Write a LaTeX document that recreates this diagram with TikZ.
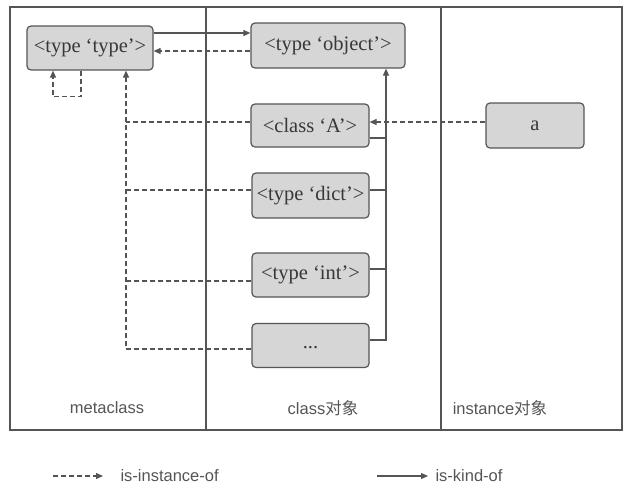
\documentclass[tikz,border=0pt]{standalone}
\usepackage{fontspec}
\setmainfont{Liberation Serif}
\setsansfont{Liberation Sans}
\newfontfamily\cjk{Noto Sans CJK SC}
\usepackage{xcolor}
\usetikzlibrary{arrows.meta}
\definecolor{boxgray}{RGB}{214,214,214}
\definecolor{linegray}{RGB}{85,85,85}
\definecolor{textgray}{RGB}{55,55,55}

\tikzset{
  objbox/.style={draw=linegray, fill=boxgray, rounded corners=4pt, line width=1.2pt,
    text=textgray, font=\fontsize{20.5}{22}\selectfont, inner sep=0pt},
  instof/.style={draw=linegray, line width=1.2pt, dash pattern=on 5pt off 3pt,
    -{Triangle[length=7pt,width=6pt]}},
  instline/.style={draw=linegray, line width=1.2pt, dash pattern=on 5pt off 3pt},
  kindof/.style={draw=linegray, line width=1.2pt, -{Triangle[length=7pt,width=6pt]}},
  kindline/.style={draw=linegray, line width=1.2pt},
  collabel/.style={text=linegray, font=\sffamily\fontsize{16.5}{18}\selectfont},
}

\begin{document}
\begin{tikzpicture}[x=1pt,y=-1pt]
  \useasboundingbox (0,0) rectangle (631,491);
  % frame and columns
  \draw[linegray, line width=2.2pt] (10,7) rectangle (622,430);
  \draw[linegray, line width=1.2pt] (206,7) -- (206,430);
  \draw[linegray, line width=1.2pt] (441,7) -- (441,430);
  \node[collabel] (lmeta) at (107,408) {metaclass};
  \node[collabel] (lclass) at (323,408) {class{\cjk 对象}};
  \node[collabel] (linst) at (500,408) {instance{\cjk 对象}};

  % objects
  \node[objbox, minimum width=126pt, minimum height=44pt] (type) at (90,48) {<type `type'>};
  \node[objbox, minimum width=154pt, minimum height=45pt] (object) at (328,45.5) {<type `object'>};
  \node[objbox, minimum width=118pt, minimum height=43pt] (classA) at (310,125.5) {<class `A'>};
  \node[objbox, minimum width=117pt, minimum height=45pt] (dict) at (310.5,195.5) {<type `dict'>};
  \node[objbox, minimum width=117pt, minimum height=44pt] (int) at (310.5,275) {<type `int'>};
  \node[objbox, minimum width=117pt, minimum height=44pt] (dots) at (310.5,345.5) {\raisebox{-6pt}{...}};
  \node[objbox, minimum width=98pt, minimum height=45pt] (a) at (535,125.5) {\raisebox{-3pt}{a}};

  \coordinate (tin) at ([xshift=36pt]type.south);
  \coordinate (oin) at ([xshift=58pt]object.south);

  % is-kind-of
  \draw[kindof] ([yshift=15pt]type.east) -- ([yshift=15pt]type.east -| object.west);
  \draw[kindof] ([yshift=5.5pt]dots.east) -| (oin);
  \draw[kindline] ([yshift=-12.5pt]classA.east) -- ([yshift=-12.5pt]classA.east -| oin);
  \draw[kindline] ([yshift=5.5pt]dict.east) -- ([yshift=5.5pt]dict.east -| oin);
  \draw[kindline] ([yshift=6pt]int.east) -- ([yshift=6pt]int.east -| oin);

  % is-instance-of
  \draw[instof] ([yshift=-5.5pt]object.west) -- ([yshift=-5.5pt]object.west -| type.east);
  \draw[instof] ([xshift=-9pt]type.south) |- ([xshift=-37pt,yshift=-26pt]type.south) -- ([xshift=-37pt]type.south);
  \draw[instof] ([yshift=-3.5pt]dots.west) -| (tin);
  \draw[instline] ([yshift=3.5pt]classA.west) -- ([yshift=3.5pt]classA.west -| tin);
  \draw[instline] ([yshift=5.5pt]dict.west) -- ([yshift=5.5pt]dict.west -| tin);
  \draw[instline] ([yshift=-6pt]int.west) -- ([yshift=-6pt]int.west -| tin);
  \draw[instof] ([yshift=3.5pt]a.west) -- ([yshift=3.5pt]a.west -| classA.east);

  % legend
  \coordinate (lg1) at (53,476);
  \node[collabel, anchor=west] (leginst) at (117,476) {is-instance-of};
  \draw[instof] (lg1) -- ([xshift=-14pt]leginst.west);
  \coordinate (lg2) at (377,476);
  \node[collabel, anchor=west] (legkind) at (432,476) {is-kind-of};
  \draw[kindof] (lg2) -- ([xshift=-4pt]legkind.west);
\end{tikzpicture}
\end{document}
